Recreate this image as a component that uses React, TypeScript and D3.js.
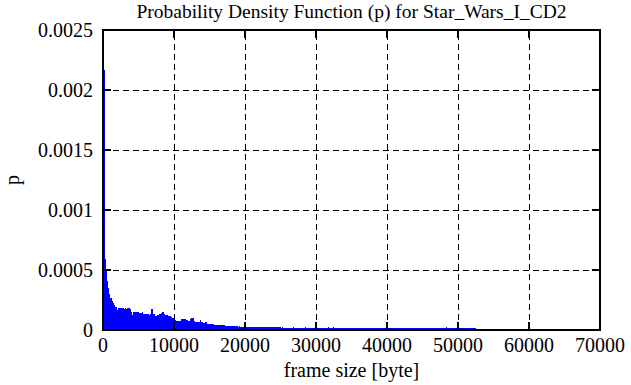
import React from 'react';
import * as d3 from 'd3';

// histogram of frame sizes, 150 byte bins starting at 0, p in units of 1e-6
const binWidth = 150;
const pdfMicro = [
  2180, 2170, 590, 500, 410, 350, 300, 270, 245, 225,
  205, 192, 188, 170, 182, 186, 184, 187, 183, 185,
  176, 184, 175, 181, 184, 179, 146, 128, 151, 150,
  152, 149, 146, 147, 139, 138, 140, 148, 135, 136,
  134, 136, 130, 129, 131, 176, 172, 133, 131, 116,
  118, 128, 126, 136, 138, 152, 149, 131, 122, 121,
  122, 119, 120, 113, 112, 101, 100, 85, 84, 78,
  77, 79, 78, 89, 92, 90, 91, 92, 84, 83,
  78, 77, 92, 101, 100, 78, 70, 69, 70, 66,
  68, 83, 66, 65, 56, 55, 66, 64, 48, 47,
  48, 47, 48, 46, 40, 39, 41, 39, 40, 38,
  39, 40, 38, 39, 38, 37, 32, 31, 32, 30,
  31, 31, 30, 32, 30, 31, 30, 29, 30, 25,
  26, 25, 24, 22, 23, 22, 22, 21, 22, 23,
  22, 21, 22, 22, 23, 21, 22, 22, 21, 22,
  23, 22, 21, 22, 22, 21, 22, 23, 22, 21,
  22, 22, 21, 22, 22, 21, 22,
];

// rare large frames past the continuous part
const isolatedFrames = [25200, 26400, 26700, 27150, 27600, 28500, 28900, 31200, 31650, 31950, 32400, 33450, 48300];
const isolatedMicro = [22, 20, 22, 20, 18, 22, 20, 20, 22, 20, 22, 18, 25];
const maxFrameSize = 52500;

const xTicks = [0, 10000, 20000, 30000, 40000, 50000, 60000, 70000];
const yTicks = [0, 500, 1000, 1500, 2000, 2500];
const yTickLabels = ['0', '0.0005', '0.001', '0.0015', '0.002', '0.0025'];

const title = 'Probability Density Function (p) for Star_Wars_I_CD2';
const xLabel = 'frame size [byte]';
const yLabel = 'p';

const W = 631;
const H = 385;
const plot = { left: 103, right: 600, top: 30, bottom: 330 };
const font = '"Liberation Serif", "Times New Roman", serif';
const fs = 20;

export default function App() {
  const x = d3.scaleLinear().domain([0, 70000]).range([plot.left, plot.right]);
  const y = d3.scaleLinear().domain([0, 2500]).range([plot.bottom, plot.top]);
  const tick = 8;

  const bar = (start: number, v: number, key: string) => {
    const x0 = x(start);
    const x1 = x(start + binWidth);
    const h = Math.max(y(0) - y(v), 2);
    return <rect key={key} x={x0} y={y(0) - h} width={x1 - x0} height={h} fill="#0000ff" />;
  };

  return (
    <svg width={W} height={H} style={{ position: 'absolute', left: 0, top: 0, background: '#fff' }}>
      <rect x={0} y={0} width={W} height={H} fill="#fff" />

      {/* grid */}
      <g stroke="#000" strokeWidth={1} strokeDasharray="6,4" shapeRendering="crispEdges">
        {xTicks.slice(1, -1).map((t) => (
          <line key={'gx' + t} x1={x(t)} x2={x(t)} y1={plot.bottom} y2={plot.top} />
        ))}
        {yTicks.slice(1, -1).map((t) => (
          <line key={'gy' + t} x1={plot.left} x2={plot.right} y1={y(t)} y2={y(t)} />
        ))}
      </g>

      {/* bars */}
      <g shapeRendering="crispEdges">
        <rect x={x(0)} y={y(0) - 2} width={x(maxFrameSize) - x(0)} height={2} fill="#0000ff" />
        {pdfMicro.map((v, i) => bar(i * binWidth, v, 'b' + i))}
        {isolatedFrames.map((f, i) => bar(f, isolatedMicro[i], 's' + i))}
      </g>

      {/* frame */}
      <rect
        x={plot.left}
        y={plot.top}
        width={plot.right - plot.left}
        height={plot.bottom - plot.top}
        fill="none"
        stroke="#000"
        strokeWidth={2}
        shapeRendering="crispEdges"
      />

      {/* ticks */}
      <g stroke="#000" strokeWidth={2} shapeRendering="crispEdges">
        {xTicks.slice(1, -1).map((t) => (
          <g key={'tx' + t}>
            <line x1={x(t)} x2={x(t)} y1={plot.bottom} y2={plot.bottom - tick} />
            <line x1={x(t)} x2={x(t)} y1={plot.top} y2={plot.top + tick} />
          </g>
        ))}
        {yTicks.slice(1, -1).map((t) => (
          <g key={'ty' + t}>
            <line x1={plot.left} x2={plot.left + tick} y1={y(t)} y2={y(t)} />
            <line x1={plot.right} x2={plot.right - tick} y1={y(t)} y2={y(t)} />
          </g>
        ))}
      </g>

      {/* labels */}
      <g fontFamily={font} fontSize={fs} fill="#000">
        {xTicks.map((t) => (
          <text key={'lx' + t} x={x(t)} y={plot.bottom + 22} textAnchor="middle">
            {t}
          </text>
        ))}
        {yTicks.map((t, i) => (
          <text key={'ly' + t} x={plot.left - 10} y={y(t) + 7} textAnchor="end">
            {yTickLabels[i]}
          </text>
        ))}
        <text x={(plot.left + plot.right) / 2} y={18} fontSize={19.5} textAnchor="middle">
          {title}
        </text>
        <text x={(plot.left + plot.right) / 2} y={377} textAnchor="middle">
          {xLabel}
        </text>
        <text transform={`translate(19, ${(plot.top + plot.bottom) / 2}) rotate(-90)`} textAnchor="middle">
          {yLabel}
        </text>
      </g>
    </svg>
  );
}
